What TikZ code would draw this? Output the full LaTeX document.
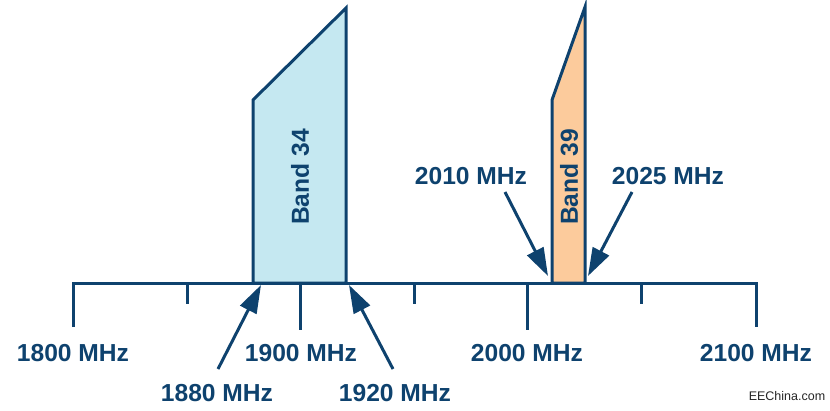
\documentclass[tikz,border=0pt]{standalone}
\usepackage{fontspec}
\setmainfont{Liberation Sans}
\usetikzlibrary{arrows.meta}
\definecolor{bandline}{RGB}{14,66,110}
\definecolor{band34fill}{RGB}{197,232,241}
\definecolor{band39fill}{RGB}{252,203,156}
\tikzset{
  freq/.style={font=\bfseries\fontsize{24.6}{28}\selectfont, text=bandline, inner sep=0pt},
  bandname/.style={freq, rotate=90},
  pointer/.style={-{Triangle[length=28pt,width=18pt]}, line width=3pt, draw=bandline},
  axisline/.style={line width=3pt, draw=bandline},
  bandshape/.style={line width=3pt, draw=bandline, line join=miter}
}
\begin{document}
\begin{tikzpicture}[x=1pt,y=-1pt]
  \useasboundingbox (0,0) rectangle (830,410);
  % bands
  \draw[bandshape, fill=band34fill] (253,283) -- (253,100) -- (346,8) -- (346,283) -- cycle;
  \draw[bandshape, fill=band39fill] (552,283) -- (552,100) -- (585,7) -- (585,283) -- cycle;
  \node[bandname] (b34) at (300,177) {Band 34};
  \node[bandname] (b39) at (569,177) {Band 39};
  % axis and ticks
  \draw[axisline] (73,327) -- (73,283) -- (756,283) -- (756,327);
  \draw[axisline] (187,283) -- (187,304);
  \draw[axisline] (300,283) -- (300,330);
  \draw[axisline] (414,283) -- (414,304);
  \draw[axisline] (527,283) -- (527,330);
  \draw[axisline] (641,283) -- (641,304);
  % frequency labels
  \node[freq] (l1800) at (73,353) {1800 MHz};
  \node[freq] (l1900) at (301,353) {1900 MHz};
  \node[freq] (l2000) at (527,353) {2000 MHz};
  \node[freq] (l2100) at (756,353) {2100 MHz};
  \node[freq] (l1880) at (217,393) {1880 MHz};
  \node[freq] (l1920) at (395,393) {1920 MHz};
  \node[freq] (l2010) at (471,176) {2010 MHz};
  \node[freq] (l2025) at (668,176) {2025 MHz};
  % band edges
  \coordinate (a1880) at (218,369);
  \coordinate (e1880) at (261,285);
  \coordinate (a1920) at (393,369);
  \coordinate (e1920) at (349,285);
  \coordinate (a2010) at (505,192);
  \coordinate (e2010) at (548,276);
  \coordinate (a2025) at (632,192);
  \coordinate (e2025) at (588,276);
  \draw[pointer] (a1880) -- (e1880);
  \draw[pointer] (a1920) -- (e1920);
  \draw[pointer] (a2010) -- (e2010);
  \draw[pointer] (a2025) -- (e2025);
  \node[font=\fontsize{12.5}{14}\selectfont, text=black!85, inner sep=0pt] (src) at (787,396) {EEChina.com};
\end{tikzpicture}
\end{document}
